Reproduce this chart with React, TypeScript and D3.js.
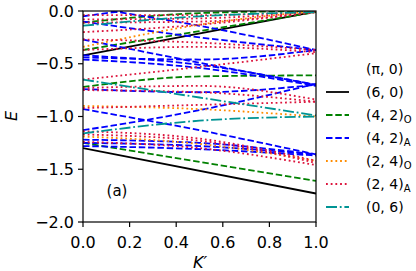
import React from "react";
import * as d3 from "d3";

type Pt = [number, number];

const xTicks = [0, 0.2, 0.4, 0.6, 0.8, 1.0];
const yTicks = [0, -0.5, -1.0, -1.5, -2.0];

const lines60: Pt[][] = [
  [[0, -0.42], [1, -0.005]],
  [[0, -1.30], [1, -1.73]],
];
const lines42O: Pt[][] = [
  [[0, -0.11], [0.5, -0.02], [1, 0.0]],
  [[0, -0.37], [0.5, -0.19], [1, -0.01]],
  [[0, -0.72], [0.5, -0.62], [1, -0.61]],
  [[0, -1.25], [0.5, -1.43], [1, -1.61]],
];
const lines42A: Pt[][] = [
  [[0, -0.05], [0.17, 0.0]],
  [[0.12, 0.0], [0.5, -0.14], [1, -0.37]],
  [[0, -0.1], [0.5, -0.25], [1, -0.37]],
  [[0, -0.27], [0.5, -0.49], [1, -0.7]],
  [[0, -0.42], [0.5, -0.51], [1, -0.7]],
  [[0, -0.44], [0.5, -0.46], [1, -0.37]],
  [[0, -0.46], [0.5, -0.54], [1, -0.71]],
  [[0, -0.74], [0.5, -0.77], [1, -0.7]],
  [[0, -0.93], [0.5, -1.13], [1, -1.36]],
  [[0, -1.13], [0.5, -0.94], [1, -0.69]],
  [[0, -1.22], [0.5, -1.25], [1, -1.36]],
  [[0, -1.25], [0.5, -1.28], [1, -1.36]],
  [[0, -1.28], [0.5, -1.31], [1, -1.37]],
];
const lines24O: Pt[][] = [
  [[0, -0.34], [0.5, -0.13], [1, 0.0]],
  [[0, -0.9], [0.5, -0.93], [1, -1.0]],
  [[0, -1.19], [0.5, -1.26], [1, -1.42]],
];
const lines24A: Pt[][] = [
  [[0, -0.04], [0.5, -0.04], [1, 0.0]],
  [[0, -0.08], [0.5, -0.07], [1, -0.005]],
  [[0, -0.11], [0.5, -0.1], [1, -0.01]],
  [[0, -0.2], [0.5, -0.13], [1, -0.01]],
  [[0, -0.27], [0.5, -0.3], [1, -0.37]],
  [[0, -0.37], [0.5, -0.34], [1, -0.39]],
  [[0, -0.65], [0.5, -0.53], [1, -0.4]],
  [[0, -0.73], [0.5, -0.71], [1, -0.84]],
  [[0, -0.75], [0.5, -0.77], [1, -0.86]],
  [[0, -0.92], [0.5, -0.89], [1, -0.86]],
  [[0, -1.14], [0.5, -1.21], [1, -1.42]],
  [[0, -1.17], [0.5, -1.23], [1, -1.44]],
  [[0, -1.24], [0.5, -1.3], [1, -1.46]],
];
const lines06: Pt[][] = [
  [[0, -0.14], [0.5, -0.05], [1, -0.01]],
  [[0, -0.65], [0.5, -0.82], [1, -0.99]],
  [[0, -1.16], [0.5, -1.04], [1, -1.0]],
];

const seriesNames = ["(6, 0)", "(4, 2)", "(4, 2)", "(2, 4)", "(2, 4)", "(0, 6)"];
const seriesSubs = ["", "O", "A", "O", "A", ""];

const series = [
  { lines: lines60, color: "#000000", dash: "" },
  { lines: lines42O, color: "#008000", dash: "6.5,2.8" },
  { lines: lines42A, color: "#0000ff", dash: "6.5,2.8" },
  { lines: lines24O, color: "#ff8c00", dash: "1.8,2.9" },
  { lines: lines24A, color: "#dc143c", dash: "1.8,2.9" },
  { lines: lines06, color: "#009494", dash: "11,2.8,1.8,2.8" },
];

const W = 416, H = 271;
const L = 83, R = 316, T = 11, B = 222;
const font = "DejaVu Sans, sans-serif";
const LW = 1.8;

export default function App() {
  const x = d3.scaleLinear().domain([0, 1]).range([L, R]);
  const y = d3.scaleLinear().domain([-2, 0]).range([B, T]);
  const line = d3
    .line<Pt>()
    .x((d) => x(d[0]))
    .y((d) => y(d[1]))
    .curve(d3.curveMonotoneX);
  const drawOrder = [0, 1, 2, 3, 4, 5];
  return (
    <svg width={W} height={H} style={{ position: "absolute", left: 0, top: 0, background: "#fff" }} fontFamily={font}>
      <defs>
        <clipPath id="plot">
          <rect x={L} y={T} width={R - L} height={B - T} />
        </clipPath>
      </defs>
      <g clipPath="url(#plot)">
        {drawOrder.map((si) =>
          series[si].lines.map((ln, i) => (
            <path
              key={si + "-" + i}
              d={line(ln) || ""}
              fill="none"
              stroke={series[si].color}
              strokeWidth={LW}
              strokeDasharray={series[si].dash || undefined}
            />
          ))
        )}
      </g>
      <rect x={L} y={T} width={R - L} height={B - T} fill="none" stroke="#000" strokeWidth={1.2} />
      {xTicks.map((t) => (
        <g key={"x" + t}>
          <line x1={x(t)} x2={x(t)} y1={B} y2={B + 5} stroke="#000" strokeWidth={1.2} />
          <text x={x(t)} y={B + 20} fontSize={16} textAnchor="middle" dominantBaseline="central">
            {t.toFixed(1)}
          </text>
        </g>
      ))}
      {yTicks.map((t) => (
        <g key={"y" + t}>
          <line x1={L - 5} x2={L} y1={y(t)} y2={y(t)} stroke="#000" strokeWidth={1.2} />
          <text x={L - 9} y={y(t)} fontSize={16} textAnchor="end" dominantBaseline="central">
            {t === 0 ? "0.0" : "\u2212" + Math.abs(t).toFixed(1)}
          </text>
        </g>
      ))}
      <text x={11} y={116} fontSize={16} fontStyle="italic" textAnchor="middle" dominantBaseline="central" transform="rotate(-90 11 116)">
        E
      </text>
      <text x={200} y={262} fontSize={16} fontStyle="italic" textAnchor="middle" dominantBaseline="central">
        K′
      </text>
      <text x={117} y={191} fontSize={15} textAnchor="middle" dominantBaseline="central">
        (a)
      </text>
      <text x={366} y={69} fontSize={14} dominantBaseline="central">
        (π, 0)
      </text>
      {seriesNames.map((n, i) => {
        const yy = 92 + i * 23;
        const s = series[i];
        return (
          <g key={"lg" + i}>
            <line x1={326} x2={349} y1={yy} y2={yy} stroke={s.color} strokeWidth={LW} strokeDasharray={s.dash || undefined} />
            <text x={366} y={yy} fontSize={14} dominantBaseline="central">
              {n}
              {seriesSubs[i] && (
                <tspan fontSize={10} dy={4}>
                  {seriesSubs[i]}
                </tspan>
              )}
            </text>
          </g>
        );
      })}
    </svg>
  );
}
